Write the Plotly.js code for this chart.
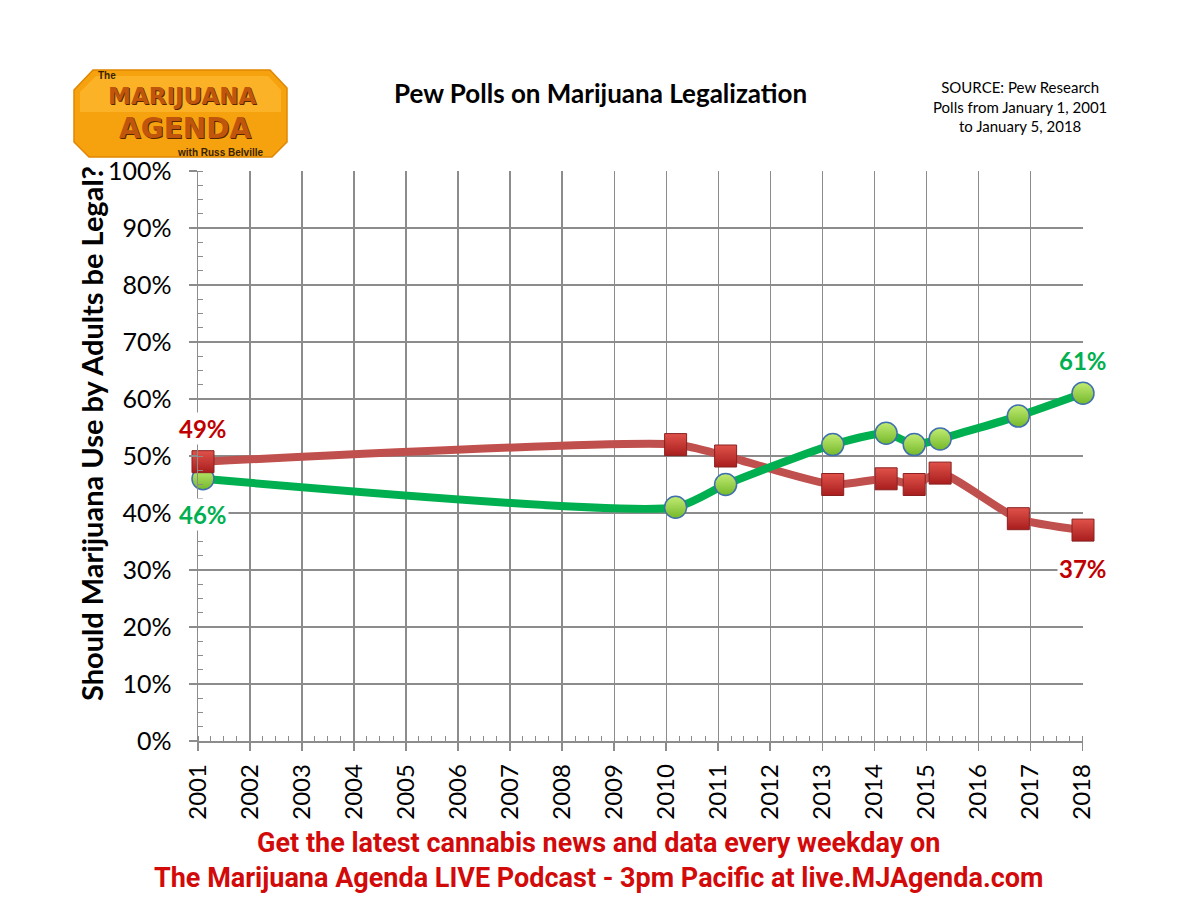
<!DOCTYPE html>
<html>
<head>
<meta charset="utf-8">
<script src="https://cdn.plot.ly/plotly-3.0.1.min.js"></script>
<style>html,body{margin:0;padding:0;background:#fff;}#chart{width:1200px;height:900px;}</style>
</head>
<body>
<div id="chart"></div>
<script>
// ---- data ----
const pollDates = ['2001-02-05','2010-03-08','2011-02-22','2013-03-15','2014-03-25','2014-10-08','2015-04-08','2016-10-08','2018-01-05'];
const legalYes = [46, 41, 45, 52, 54, 52, 53, 57, 61];
const legalNo  = [49, 52, 50, 45, 46, 45, 47, 39, 37];
const chartTitle = 'Pew Polls on Marijuana Legalization';
const sourceText = 'SOURCE: Pew Research<br>Polls from January 1, 2001<br>to January 5, 2018';
const yAxisTitle = 'Should Marijuana Use by Adults be Legal?';
const footerLines = ['Get the latest cannabis news and data every weekday on', 'The Marijuana Agenda LIVE Podcast - 3pm Pacific at live.MJAgenda.com'];

// ---- layout helpers (pixel -> paper) ----
const L = 198, R = 1083, T = 171, B = 741;
const px = v => (v - L) / (R - L);
const py = v => (B - v) / (B - T);

const GREEN = '#00b050', RED = '#c0504d', GRID = '#8c8c8c';
const baseFont = 'Lato, "Open Sans", sans-serif';
const logoShadow = '1px 1px 0px #5a2600';

const traces = [
  {x: pollDates, y: legalNo, mode: 'lines', line: {color: RED, width: 8, shape: 'spline', smoothing: 0.6}, hoverinfo: 'skip', cliponaxis: false},
  {x: pollDates, y: legalYes, mode: 'lines', line: {color: GREEN, width: 8, shape: 'spline', smoothing: 0.6}, hoverinfo: 'skip', cliponaxis: false},
  {x: pollDates, y: legalYes, mode: 'markers', cliponaxis: false,
   marker: {symbol: 'circle', size: 22, color: '#c2ec74', gradient: {type: 'vertical', color: '#74b82a'}, line: {color: '#3f6fae', width: 1.5}}},
  {x: pollDates, y: legalNo, mode: 'markers', cliponaxis: false,
   marker: {symbol: 'square', size: 22, color: '#e0524a', gradient: {type: 'vertical', color: '#a81e1e'}, line: {color: '#8a2020', width: 1}}}
];

const n = pollDates.length - 1;
const annotations = [
  {x: pollDates[0], y: legalNo[0], xref: 'x', yref: 'y', text: '<b>' + legalNo[0] + '%</b>', showarrow: false, yshift: 33, bgcolor: 'white', font: {family: baseFont, size: 24, color: '#c00000'}},
  {x: pollDates[0], y: legalYes[0], xref: 'x', yref: 'y', text: '<b>' + legalYes[0] + '%</b>', showarrow: false, yshift: -36, bgcolor: 'white', font: {family: baseFont, size: 24, color: GREEN}},
  {x: pollDates[n], y: legalYes[n], xref: 'x', yref: 'y', text: '<b>' + legalYes[n] + '%</b>', showarrow: false, yshift: 33, bgcolor: 'white', font: {family: baseFont, size: 24, color: GREEN}},
  {x: pollDates[n], y: legalNo[n], xref: 'x', yref: 'y', text: '<b>' + legalNo[n] + '%</b>', showarrow: false, yshift: -38, bgcolor: 'white', font: {family: baseFont, size: 24, color: '#c00000'}},
  // title & source
  {xref: 'paper', yref: 'paper', x: px(600), y: py(93), text: '<b>' + chartTitle + '</b>', showarrow: false, xanchor: 'center', yanchor: 'middle', font: {family: baseFont, size: 26, color: '#000'}},
  {xref: 'paper', yref: 'paper', x: px(1020), y: py(106), text: sourceText, showarrow: false, xanchor: 'center', yanchor: 'middle', align: 'center', font: {family: baseFont, size: 15, color: '#000'}},
  // y axis title
  {xref: 'paper', yref: 'paper', x: px(91), y: py(434), text: '<b>' + yAxisTitle + '</b>', textangle: -90, showarrow: false, xanchor: 'center', yanchor: 'middle', font: {family: baseFont, size: 29, color: '#000'}},
  // footer
  {xref: 'paper', yref: 'paper', x: px(598), y: py(860), text: '<b>' + footerLines.join('<br>') + '</b>', showarrow: false, xanchor: 'center', yanchor: 'middle', align: 'center', font: {family: '"Liberation Sans Narrow", "Roboto", sans-serif', size: 27, color: '#d20a0a'}},
  // logo text
  {xref: 'paper', yref: 'paper', x: px(97), y: py(76), text: '<b>The</b>', showarrow: false, xanchor: 'left', yanchor: 'middle', borderpad: 0, font: {family: '"Liberation Sans", sans-serif', size: 10, color: '#3a2200'}},
  {xref: 'paper', yref: 'paper', x: px(182), y: py(96), text: '<b>MARIJUANA</b>', showarrow: false, xanchor: 'center', yanchor: 'middle', borderpad: 0, font: {family: '"DejaVu Sans", sans-serif', size: 23, color: '#c0560c', shadow: logoShadow}},
  {xref: 'paper', yref: 'paper', x: px(185), y: py(128), text: '<b>AGENDA</b>', showarrow: false, xanchor: 'center', yanchor: 'middle', borderpad: 0, font: {family: '"DejaVu Sans", sans-serif', size: 28, color: '#c0560c', shadow: logoShadow}},
  {xref: 'paper', yref: 'paper', x: px(264), y: py(153), text: '<b>with Russ Belville</b>', showarrow: false, xanchor: 'right', yanchor: 'middle', borderpad: 0, font: {family: '"Liberation Sans Narrow", sans-serif', size: 10, color: '#3a2200'}}
];

const logoPath = 'M ' + [[74,90],[93,70],[270,70],[287,88],[287,142],[272,157],[89,157],[74,142]]
  .map(p => px(p[0]) + ',' + py(p[1])).join(' L ') + ' Z';
const logoInner = 'M ' + [[80,92],[96,76],[268,76],[281,90],[281,112],[80,112]]
  .map(p => px(p[0]) + ',' + py(p[1])).join(' L ') + ' Z';

const layout = {
  width: 1200, height: 900,
  margin: {l: L, r: 1200 - R, t: T, b: 900 - B},
  paper_bgcolor: '#fff', plot_bgcolor: '#fff',
  showlegend: false,
  font: {family: baseFont, color: '#000'},
  xaxis: {
    type: 'date', range: ['2001-01-01', '2018-01-05'],
    tick0: '2001-01-01', dtick: 'M12', tickformat: '%Y', tickangle: -90,
    ticks: 'outside', ticklen: 8, tickcolor: GRID, tickwidth: 1.5,
    showgrid: true, gridcolor: GRID, gridwidth: 1.3,
    showline: true, linecolor: GRID, linewidth: 1.5,
    zeroline: false, ticklabelstandoff: 4,
    tickfont: {family: baseFont, size: 24, color: '#000'},
    minor: {dtick: 'M3', ticks: 'inside', ticklen: 5, tickcolor: GRID, tickwidth: 1, showgrid: false},
    fixedrange: true
  },
  yaxis: {
    range: [0, 100], dtick: 10, ticksuffix: '%',
    ticks: 'outside', ticklen: 8, tickcolor: GRID, tickwidth: 1.5,
    showgrid: true, gridcolor: GRID, gridwidth: 1.3,
    showline: true, linecolor: GRID, linewidth: 1.5,
    zeroline: false, ticklabelstandoff: 12,
    tickfont: {family: baseFont, size: 25, color: '#000'},
    minor: {dtick: 2.5, ticks: 'inside', ticklen: 5, tickcolor: GRID, tickwidth: 1, showgrid: false},
    fixedrange: true
  },
  shapes: [
    {type: 'path', xref: 'paper', yref: 'paper', path: logoPath, fillcolor: '#f6a20f', line: {color: '#e08600', width: 1.5}, layer: 'above'},
    {type: 'path', xref: 'paper', yref: 'paper', path: logoInner, fillcolor: '#ffbf3a', line: {width: 0}, opacity: 0.55, layer: 'above'}
  ],
  annotations: annotations
};

Plotly.newPlot('chart', traces, layout, {staticPlot: true, displayModeBar: false});
</script>
</body>
</html>
